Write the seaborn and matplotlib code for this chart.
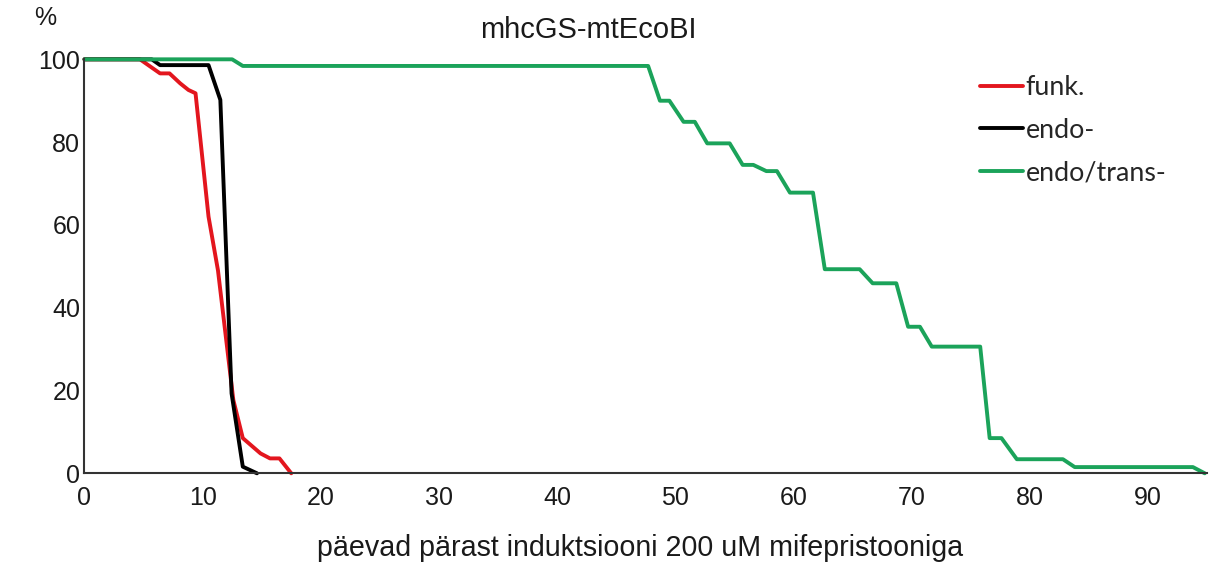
import matplotlib

matplotlib.use('Agg')

import matplotlib.pyplot as plt
import pandas as pd
import seaborn as sns
from matplotlib.lines import Line2D

# survival curves (days after induction, % alive)
funk_days = [0, 4.7, 6.4, 7.2, 8.1, 8.8, 9.4, 10.5, 11.3, 12.6, 13.4, 14.9, 15.7, 16.5, 17.5]
funk_vals = [100, 100, 96.6, 96.6, 94.2, 92.6, 91.8, 62, 49, 17.7, 8.5, 4.8, 3.6, 3.6, 0]

endo_days = [0, 5.7, 6.4, 10.5, 11.5, 12.45, 13.4, 14.6]
endo_vals = [100, 100, 98.6, 98.6, 90.2, 19.3, 1.6, 0]

trans_days = [0, 12.5, 13.4, 47.7, 48.7, 49.5, 50.7, 51.65, 52.7, 54.6, 55.7, 56.6,
              57.7, 58.6, 59.7, 61.65, 62.65, 65.6, 66.7, 68.7, 69.7, 70.7, 71.7,
              75.8, 76.6, 77.6, 78.9, 82.8, 83.8, 93.8, 94.8]
trans_vals = [100, 100, 98.4, 98.4, 90, 90, 84.9, 84.9, 79.7, 79.7, 74.5, 74.5,
              73, 73, 67.8, 67.8, 49.3, 49.3, 45.9, 45.9, 35.4, 35.4, 30.6,
              30.6, 8.5, 8.5, 3.4, 3.4, 1.5, 1.5, 0]

series_names = ['funk.', 'endo-', 'endo/trans-']
series_colors = ['#E3161E', '#000000', '#1BA35A']
y_ticks = [0, 20, 40, 60, 80, 100]
x_ticks = [0, 10, 20, 30, 40, 50, 60, 70, 80, 90]

sns.set_theme(style='white')
plt.rcParams['font.family'] = ['Liberation Sans', 'DejaVu Sans']

df = pd.concat([
    pd.DataFrame({'day': funk_days, 'pct': funk_vals, 'group': series_names[0]}),
    pd.DataFrame({'day': endo_days, 'pct': endo_vals, 'group': series_names[1]}),
    pd.DataFrame({'day': trans_days, 'pct': trans_vals, 'group': series_names[2]}),
])

fig = plt.figure(figsize=(12.15, 5.65), dpi=100)
ax = fig.add_axes([0.0695, 0.1623, 0.924, 0.7327])

sns.lineplot(data=df, x='day', y='pct', hue='group', hue_order=series_names,
             palette=series_colors, estimator=None, sort=False, linewidth=2.8,
             legend=False, ax=ax, clip_on=False)

ax.set_xlim(0, 95)
ax.set_ylim(0, 100)
ax.set_xticks(x_ticks)
ax.set_yticks(y_ticks)
ax.set_xlabel('')
ax.set_ylabel('')
ax.tick_params(axis='both', direction='in', length=6, width=1.2, color='#333333',
               labelsize=18, labelcolor='#1a1a1a')
ax.tick_params(axis='x', pad=9)
ax.tick_params(axis='y', pad=3)
for side in ['top', 'right']:
    ax.spines[side].set_visible(False)
for side in ['left', 'bottom']:
    ax.spines[side].set_color('#333333')
    ax.spines[side].set_linewidth(1.5)

handles = [Line2D([], [], color=c, linewidth=2.8) for c in series_colors]
ax.legend(handles, series_names, loc='upper left', bbox_to_anchor=(0.776, 1.02),
          frameon=False, handlelength=1.6, handletextpad=0.12, labelspacing=0.65,
          prop={'family': 'Lato', 'size': 19.3})

fig.text(0.484, 0.947, 'mhcGS-mtEcoBI', ha='center', va='center', fontsize=21, color='#1a1a1a')
fig.text(0.037, 0.968, '%', ha='center', va='center', fontsize=18, color='#1a1a1a')
fig.text(0.527, 0.03, 'päevad pärast induktsiooni 200 uM mifepristooniga', ha='center',
         va='center', fontsize=20.6, color='#1a1a1a')

fig.savefig('out.png', dpi=100)
plt.close(fig)
